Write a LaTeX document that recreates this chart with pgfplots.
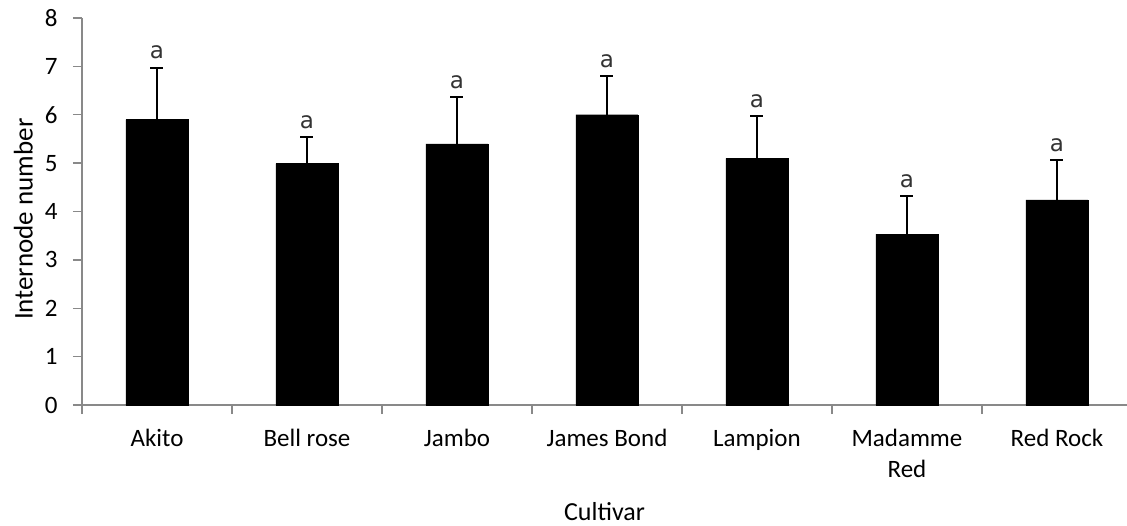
\documentclass[border=0pt]{standalone}
\usepackage{pgfplots}
\pgfplotsset{compat=1.18}
\usepackage{fontspec}
\setmainfont{Carlito}
\newfontfamily\lblfont{DejaVu Sans}
\definecolor{axgray}{HTML}{898989}
\begin{document}
\begin{tikzpicture}
\path[use as bounding box] (-82pt,-120pt) rectangle (1045pt,405pt);
\begin{axis}[
  at={(0,0)}, anchor=south west,
  scale only axis,
  width=1045pt, height=387pt,
  xmin=-0.5, xmax=6.467,
  ymin=0, ymax=8,
  axis x line=bottom, axis y line=left,
  axis line style={axgray, line width=1.3pt, -},
  xtick={-0.5,0.5,1.5,2.5,3.5,4.5,5.5},
  xticklabels={},
  extra x ticks={0,1,2,3,4,5,6},
  extra x tick labels={Akito,Bell rose,Jambo,James Bond,Lampion,{Madamme\\Red},Red Rock},
  extra x tick style={major tick length=0pt, tick style={draw=none}},
  x tick label style={align=center, anchor=north, yshift=-21pt, font=\fontsize{25}{31}\selectfont},
  ytick={0,1,...,8},
  tick style={axgray, line width=1.3pt},
  tick align=outside,
  major tick length=9pt,
  /pgf/number format/assume math mode=true,
  tick label style={font=\fontsize{25}{30}\selectfont, text=black},
  y tick label style={xshift=-12pt},
  xlabel={Cultivar}, ylabel={Internode number},
  label style={font=\fontsize{26}{30}\selectfont},
  xlabel style={at={(axis description cs:0.5,0)}, anchor=north, yshift=-94pt},
  every axis y label/.style={at={(ticklabel cs:0.48)}, rotate=90, anchor=south, yshift=5pt, font=\fontsize{27}{30}\selectfont},
  clip=false,
]
\addplot[ybar, bar width=62pt, fill=black, draw=black,
  error bars/.cd, y dir=plus, y explicit,
  error bar style={line width=1.8pt, black},
  error mark options={rotate=90, mark size=6.5pt, line width=1.8pt, black}]
coordinates {
 (0,5.90) +- (0,1.07)
 (1,4.99) +- (0,0.55)
 (2,5.40) +- (0,0.96)
 (3,6.00) +- (0,0.80)
 (4,5.10) +- (0,0.87)
 (5,3.53) +- (0,0.79)
 (6,4.24) +- (0,0.82)
};
\addplot[only marks, mark=none,
  nodes near coords={a},
  every node near coord/.style={font=\lblfont\fontsize{23}{26}\selectfont, text=black!80, anchor=south, yshift=5pt}]
coordinates {
 (0,6.97) (1,5.54) (2,6.36) (3,6.80) (4,5.97) (5,4.32) (6,5.06)
};
\end{axis}
\end{tikzpicture}
\end{document}
